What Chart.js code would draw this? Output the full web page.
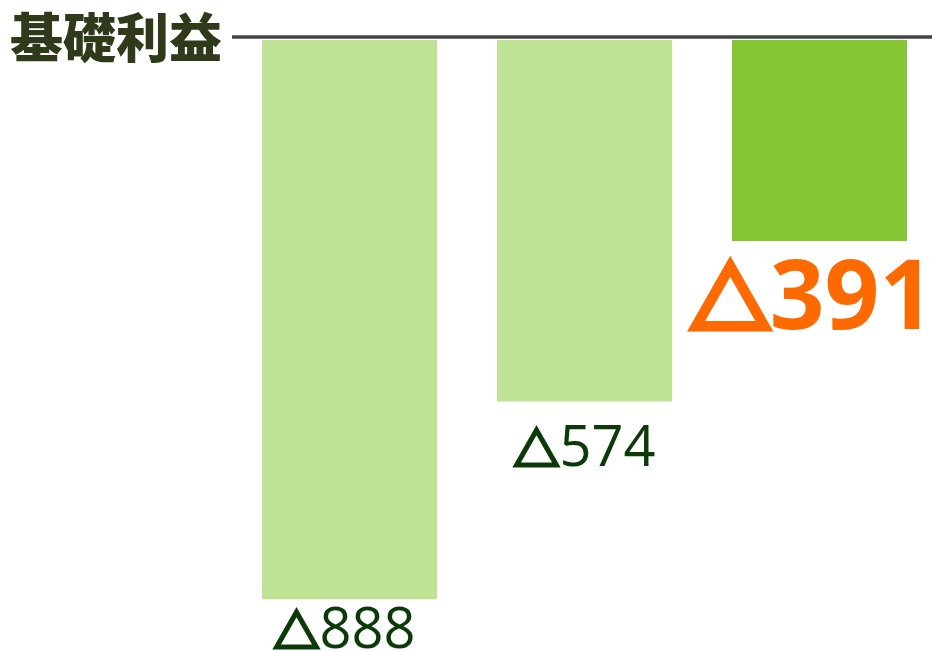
<!DOCTYPE html>
<html>
<head>
<meta charset="utf-8">
<script src="https://cdn.jsdelivr.net/npm/chart.js@4.4.1/dist/chart.umd.min.js"></script>
<style>
  html, body { margin: 0; padding: 0; background: #ffffff; overflow: hidden; }
  #wrap { width: 932px; height: 651px; overflow: hidden; }
  #wrap canvas { display: block; }
</style>
</head>
<body>
<div id="wrap"><canvas id="chart" width="937" height="651"></canvas></div>
<script>
// Values (bar lengths below the zero line).
const categories = ['A', 'B', 'C'];
const barValues = [-888, -574, -319];
const valueLabels = ['△888', '△574', '△391'];
const titleText = '基礎利益';

// Styling for each bar and its label.
const barColors = ['#c0e294', '#c0e294', '#84c634'];
const labelStyles = [
    { size: 56, weight: 400, color: '#0b3a08', gap: 49, dx: -5, triStroke: 3 },
    { size: 56, weight: 400, color: '#0b3a08', gap: 64, dx: 0, triStroke: 3 },
    { size: 96, weight: 700, color: '#ff6a00', gap: 88, dx: -7, triStroke: 7 }
];

// Baseline, title and value labels drawn on top of the bars.
const decorations = {
    id: 'decorations',
    afterDatasetsDraw(chart) {
        const ctx = chart.ctx;
        const y = chart.scales.y;
        const zero = y.getPixelForValue(0);

        ctx.save();
        ctx.strokeStyle = '#444444';
        ctx.lineWidth = 3.5;
        ctx.beginPath();
        ctx.moveTo(232, zero - 3);
        ctx.lineTo(chart.width, zero - 3);
        ctx.stroke();

        ctx.fillStyle = '#2e3a19';
        ctx.font = '900 53px "Noto Sans CJK JP"';
        ctx.textAlign = 'left';
        ctx.textBaseline = 'middle';
        ctx.fillText(titleText, 10, 38);

        // the triangle is set in a CJK face and thickened with a stroke
        const meta = chart.getDatasetMeta(0);
        meta.data.forEach((bar, i) => {
            const st = labelStyles[i];
            const tri = valueLabels[i].charAt(0);
            const num = valueLabels[i].slice(1);
            const triFont = '700 ' + Math.round(st.size * 0.82) + 'px "Noto Sans CJK JP"';
            const numFont = st.weight + ' ' + st.size + 'px "Open Sans"';
            ctx.font = triFont;
            const tw = ctx.measureText(tri).width;
            ctx.font = numFont;
            const nw = ctx.measureText(num).width;
            const left = bar.x + st.dx - (tw + nw) / 2;
            const base = bar.y + st.gap;
            ctx.fillStyle = st.color;
            ctx.strokeStyle = st.color;
            ctx.lineJoin = 'miter';
            ctx.lineWidth = st.triStroke;
            ctx.textAlign = 'left';
            ctx.textBaseline = 'alphabetic';
            ctx.font = triFont;
            ctx.fillText(tri, left, base);
            ctx.strokeText(tri, left, base);
            ctx.font = numFont;
            ctx.fillText(num, left + tw, base);
        });
        ctx.restore();
    }
};

new Chart(document.getElementById('chart'), {
    type: 'bar',
    data: {
        labels: categories,
        datasets: [{
            data: barValues,
            backgroundColor: barColors,
            borderWidth: 0,
            barPercentage: 0.745,
            categoryPercentage: 1
        }]
    },
    options: {
        responsive: false,
        animation: false,
        layout: { padding: { top: 40, left: 232, right: 0, bottom: 0 } },
        plugins: { legend: { display: false }, tooltip: { enabled: false } },
        scales: {
            x: { display: false },
            y: { display: false, min: -970, max: 0 }
        }
    },
    plugins: [decorations]
});
</script>
</body>
</html>
